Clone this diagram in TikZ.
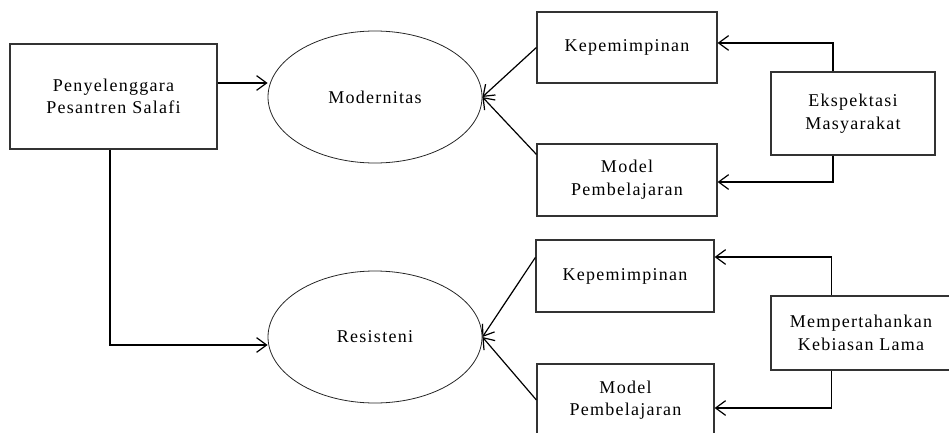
\documentclass[tikz,border=0pt]{standalone}
\usepackage{fontspec}
\setmainfont{Liberation Serif}[LetterSpace=7]
\usetikzlibrary{arrows.meta,calc,shapes.geometric}
\tikzset{
	box/.style={draw=black!80, line width=0.9pt, rectangle, align=center, inner sep=2pt},
	oval/.style={draw=black!85, line width=0.6pt, ellipse, inner sep=0pt},
	arr/.style={line width=0.9pt, -{Straight Barb[length=7.5pt,width=11pt,line width=0.9pt]}},
}

\begin{document}
\begin{tikzpicture}[x=0.75pt, y=-0.75pt, font=\fontsize{13.5}{17}\selectfont]
	\useasboundingbox (0,0) rectangle (949,432);
	
	\node[box, minimum width=155.25pt, minimum height=78.75pt] (pps) at (113.5,96.5) {Penyelenggara\\Pesantren Salafi};
	
	\node[oval, minimum width=160.5pt, minimum height=99pt] (modern) at (375,97) {Modernitas};
	\node[oval, minimum width=160.5pt, minimum height=99pt] (resist) at (375,337) {Resisteni};
	
	\node[box, minimum width=135pt, minimum height=53.25pt] (kepA) at (627,47.5) {Kepemimpinan};
	\node[box, minimum width=135pt, minimum height=54pt] (modA) at (627,180) {Model\\Pembelajaran};
	\node[box, minimum width=123pt, minimum height=62.25pt] (eksp) at (853,113.5) {Ekspektasi\\Masyarakat};
	
	\node[box, minimum width=133.5pt, minimum height=54pt] (kepB) at (625,276) {Kepemimpinan};
	\node[box, minimum width=132.75pt, minimum height=54pt] (modB) at (625.5,400) {Model\\Pembelajaran};
	\node[box, minimum width=135pt, minimum height=55.5pt] (tahan) at (861,333) {Mempertahankan\\Kebiasan Lama};
	
	\draw[arr] (pps.east |- 0,83) -- (modern.west |- 0,83);
	\draw[arr] (pps.south -| 110,0) |- (resist.west |- 0,345);
	
	\draw[arr] (kepA.west) -- (modern.east);
	\draw[arr] ($(modA.north west)+(0,11)$) -- (modern.east);
	\draw[arr] ($(kepB.north west)+(0,18)$) -- (resist.east);
	\draw[arr] (modB.west) -- (resist.east);
	
	\draw[arr] ([xshift=-15pt]eksp.north) |- ([yshift=3.4pt]kepA.east);
	\draw[arr] ([xshift=-15pt]eksp.south) |- ([yshift=-1.5pt]modA.east);
	\draw[arr] ([xshift=-22pt]tahan.north) |- ([yshift=14.25pt]kepB.east);
	\draw[arr] ([xshift=-22pt]tahan.south) |- ([yshift=-6pt]modB.east);
\end{tikzpicture}
\end{document}
